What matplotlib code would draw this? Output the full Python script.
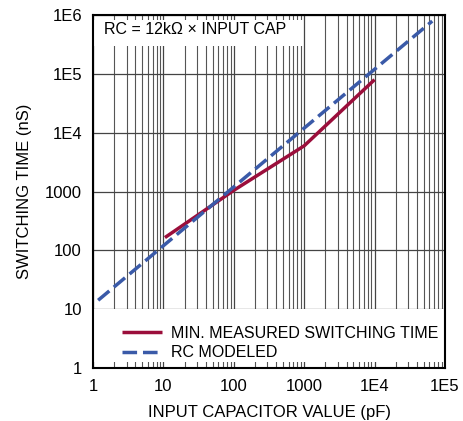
import matplotlib.pyplot as plt
from matplotlib.patches import Rectangle
from matplotlib.ticker import FixedLocator, LogLocator, NullFormatter

plt.rcParams['font.family'] = ['Liberation Sans', 'DejaVu Sans']

# measured data (pF, ns)
meas_cap = [10.5, 30, 100, 1000, 10000]
meas_time = [165, 390, 1050, 6000, 80000]

# RC model: 12k x C -> 12 ns per pF
model_cap = [1.18, 66000]
model_time = [c * 12 for c in model_cap]

x_ticks = [1, 10, 100, 1000, 1e4, 1e5]
x_labels = ['1', '10', '100', '1000', '1E4', '1E5']
y_ticks = [1, 10, 100, 1000, 1e4, 1e5, 1e6]
y_labels = ['1', '10', '100', '1000', '1E4', '1E5', '1E6']

fig = plt.figure(figsize=(4.63, 4.21), dpi=100)
ax = fig.add_axes([0.201, 0.126, 0.760, 0.838])

ax.set_xscale('log')
ax.set_yscale('log')
ax.set_xlim(1, 1e5)
ax.set_ylim(1, 1e6)

ax.set_xticks(x_ticks)
ax.set_xticklabels(x_labels)
ax.set_yticks(y_ticks)
ax.set_yticklabels(y_labels)
ax.xaxis.set_minor_locator(LogLocator(base=10, subs=range(2, 10)))
ax.xaxis.set_minor_formatter(NullFormatter())
ax.yaxis.set_minor_locator(FixedLocator([]))
ax.tick_params(axis='both', which='both', length=0, labelsize=12, pad=8)

ax.set_axisbelow(True)
ax.grid(True, which='major', axis='both', color='#444444', linewidth=0.9)
ax.grid(True, which='minor', axis='x', color='#555555', linewidth=0.8)

for s in ax.spines.values():
    s.set_linewidth(1.5)
    s.set_color('black')

# white areas behind the note and the legend
ax.add_patch(Rectangle((1, 3.0e5), 960, 5.4e5, facecolor='white', edgecolor='none', zorder=1))
ax.add_patch(Rectangle((1, 1.25), 1e5, 8.75, facecolor='white', edgecolor='none', zorder=1))

ax.plot(meas_cap, meas_time, color='#9b0e3b', linewidth=2.5, zorder=3,
        label='MIN. MEASURED SWITCHING TIME', solid_capstyle='butt')
ax.plot(model_cap, model_time, color='#3a5aa8', linewidth=2.5, zorder=4,
        dashes=(4.2, 1.7), label='RC MODELED')

ax.text(1.45, 5.6e5, 'RC = 12k\u03a9 \u00d7 INPUT CAP', fontsize=11.5, va='center', ha='left', zorder=5)

leg = ax.legend(loc='lower left', bbox_to_anchor=(0.05, -0.01), frameon=False,
                fontsize=11.5, handlelength=2.5, handletextpad=0.6, labelspacing=0.3,
                borderaxespad=0.3)

ax.set_xlabel('INPUT CAPACITOR VALUE (pF)', fontsize=12, labelpad=8)
ax.set_ylabel('SWITCHING TIME (nS)', fontsize=12, labelpad=9)

fig.savefig('out.png', dpi=100)
